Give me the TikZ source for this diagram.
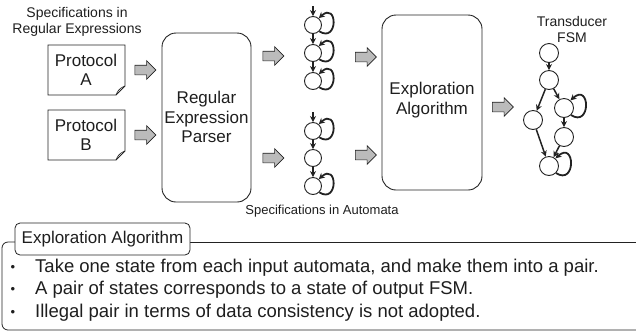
\documentclass[tikz,border=0pt]{standalone}
\usepackage{fontspec}
\setmainfont{Liberation Sans}
\usetikzlibrary{arrows.meta,shapes.arrows}
\definecolor{ink}{HTML}{1E1E1E}
\definecolor{edge}{HTML}{222222}
\definecolor{blockfill}{HTML}{BBBBBB}
\begin{document}
\begin{tikzpicture}[x=1pt,y=-1pt,
  every node/.style={text=ink},
  caption/.style={font=\fontsize{14}{16}\selectfont, align=center, inner sep=0pt},
  boxtext/.style={font=\fontsize{17}{19.5}\selectfont, align=center, inner sep=0pt},
  docpage/.style={draw=edge, line width=0.9pt, fill=white},
  stage/.style={draw=edge, line width=0.9pt, rounded corners=14pt},
  flow/.style={single arrow, draw=edge, fill=blockfill, line width=0.6pt,
    minimum height=21pt, inner xsep=0pt, inner ysep=4.5pt,
    single arrow head extend=4.5pt},
  state/.style={circle, draw=edge, line width=0.9pt, minimum size=17pt, inner sep=0pt},
  fstate/.style={state, minimum size=19pt},
  trans/.style={draw=edge, line width=1.5pt, -{Stealth[length=6pt,width=6pt]}},
  selfloop/.style={draw=edge, line width=1.8pt, -{Stealth[length=6pt,width=6pt]}},
  bullet/.style={font=\fontsize{13}{15}\selectfont, inner sep=0pt},
  item/.style={font=\fontsize{18.5}{21}\selectfont, anchor=west, inner sep=0pt},
]
\useasboundingbox (0,0) rectangle (636,333);

% ---- input specifications ----
\node[caption] (spec) at (77,22) {Specifications in\\Regular Expressions};

\draw[docpage] (48,45) -- (125,45) -- (125,86) -- (116,95) -- (48,95) -- cycle;
\draw[edge, line width=0.6pt] (116,95) .. controls (118,91) and (118,89) .. (125,86);
\node[boxtext] (protA) at (86,70) {Protocol\\A};

\draw[docpage] (48,110) -- (125,110) -- (125,151) -- (116,160) -- (48,160) -- cycle;
\draw[edge, line width=0.6pt] (116,160) .. controls (118,156) and (118,154) .. (125,151);
\node[boxtext] (protB) at (86,135) {Protocol\\B};

\node[flow] (fa) at (143,70) {};
\node[flow] (fb) at (143,135) {};

% ---- parser ----
\draw[stage] (162,33) rectangle (251,202);
\node[boxtext] (parser) at (206.5,117) {Regular\\Expression\\Parser};

\node[flow] (pa) at (271,56) {};
\node[flow] (pb) at (271,158) {};

% ---- automata ----
\node[state] (a1) at (313,25) {};
\node[state] (a2) at (313,53) {};
\node[state] (a3) at (313,81) {};
\coordinate (a0) at (313,6);
\draw[trans] (a0) -- (a1);
\draw[trans] (a1) -- (a2);
\draw[trans] (a2) -- (a3);
\foreach \s in {a1,a2,a3}
  \draw[selfloop] (\s.-45) .. controls +(19,12) and +(19,-17) .. (\s.50);

\node[state] (b1) at (313,131) {};
\node[state] (b2) at (313,158) {};
\node[state] (b3) at (313,186) {};
\coordinate (b0) at (313,112);
\draw[trans] (b0) -- (b1);
\draw[trans] (b1) -- (b2);
\draw[trans] (b2) -- (b3);
\foreach \s in {b1,b3}
  \draw[selfloop] (\s.-45) .. controls +(19,12) and +(19,-17) .. (\s.50);

\node[caption, font=\fontsize{13}{15}\selectfont] (auto) at (322,211) {Specifications in Automata};

\node[flow] (ea) at (363.5,57) {};
\node[flow] (eb) at (363.5,155) {};

% ---- exploration ----
\draw[stage] (382,15) rectangle (482,190);
\node[boxtext] (explore) at (432,100) {Exploration\\Algorithm};

\node[flow] (eo) at (500.5,107) {};

% ---- transducer FSM ----
\node[caption] (fsm) at (572,29) {Transducer\\FSM};
\node[fstate] (c1) at (549,53) {};
\node[fstate] (c2) at (549,80) {};
\node[fstate] (c3) at (564,108) {};
\node[fstate] (c4) at (533,120) {};
\node[fstate] (c5) at (564,137) {};
\node[fstate] (c6) at (549,166) {};
\draw[trans] (c1) -- (c2);
\draw[trans] (c2) -- (c3);
\draw[trans] (c2) -- (c4);
\draw[trans] (c3) -- (c5);
\draw[trans] (c4) -- (c6);
\draw[trans] (c5) -- (c6);
\foreach \s in {c3,c6}
  \draw[selfloop] (\s.-45) .. controls +(20,13) and +(20,-18) .. (\s.50);

% ---- notes panel ----
\draw[edge, line width=0.8pt] (190,242) -- (636,242);
\draw[edge, line width=0.8pt, rounded corners=6pt] (15,242) -- (2,242) -- (2,330) -- (636,330);
\node[draw=edge, line width=0.8pt, fill=white, rounded corners=5pt,
  minimum width=175pt, minimum height=32pt, font=\fontsize{17}{19}\selectfont]
  (algtitle) at (102.5,239) {Exploration Algorithm};

\node[bullet] (d1) at (13,268) {•};
\node[bullet] (d2) at (13,290) {•};
\node[bullet] (d3) at (13,313) {•};
\node[item] (t1) at (35,268) {Take one state from each input automata, and make them into a pair.};
\node[item] (t2) at (35,290) {A pair of states corresponds to a state of output FSM.};
\node[item] (t3) at (35,313) {Illegal pair in terms of data consistency is not adopted.};
\end{tikzpicture}
\end{document}
